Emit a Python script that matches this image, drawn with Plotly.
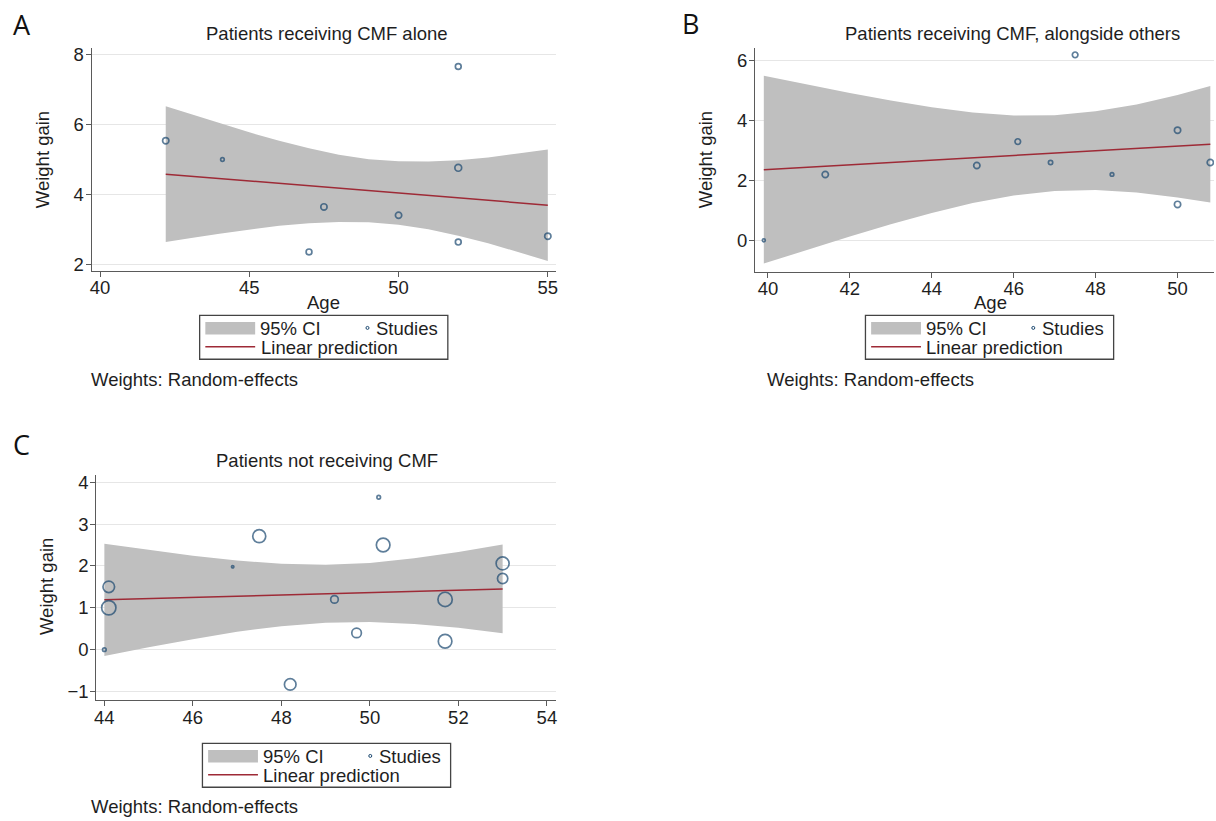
import plotly.graph_objects as go

W, H = 1216, 821

# ---------------- data ----------------
# Panel A: patients receiving CMF alone
a_age = [42.2, 44.1, 47.0, 47.5, 50.0, 52.0, 52.0, 52.0, 55.0]
a_gain = [5.54, 5.00, 2.35, 3.64, 3.40, 7.67, 4.76, 2.63, 2.80]
a_marker_d = [8.0, 5.3, 7.5, 8.0, 8.0, 7.5, 8.5, 7.5, 8.0]
a_fit_age = [42.2, 55.0]
a_fit_gain = [4.58, 3.69]
a_ci_age = [42.2, 43, 44, 45, 46, 47, 48, 49, 50, 51, 52, 53, 54, 55]
a_ci_upper = [6.53, 6.31, 6.04, 5.78, 5.54, 5.32, 5.14, 5.01, 4.95, 4.94, 4.98, 5.06, 5.17, 5.29]
a_ci_lower = [2.63, 2.74, 2.87, 2.99, 3.10, 3.17, 3.21, 3.20, 3.13, 3.00, 2.81, 2.60, 2.35, 2.09]

# Panel B: patients receiving CMF, alongside others
b_age = [39.9, 41.4, 45.1, 46.1, 46.9, 47.5, 48.4, 50.0, 50.0, 50.8]
b_gain = [0.0, 2.2, 2.5, 3.3, 2.6, 6.2, 2.2, 3.68, 1.2, 2.6]
b_marker_d = [4.7, 8.0, 8.0, 7.3, 6.0, 7.3, 5.3, 8.0, 8.0, 8.0]
b_fit_age = [39.9, 50.8]
b_fit_gain = [2.36, 3.21]
b_ci_age = [39.9, 41, 42, 43, 44, 45, 46, 47, 48, 49, 50, 50.8]
b_ci_upper = [5.50, 5.19, 4.92, 4.67, 4.45, 4.27, 4.17, 4.18, 4.31, 4.54, 4.86, 5.16]
b_ci_lower = [-0.78, -0.30, 0.13, 0.54, 0.91, 1.25, 1.50, 1.65, 1.68, 1.60, 1.43, 1.26]

# Panel C: patients not receiving CMF
c_age = [44.0, 44.1, 44.1, 46.9, 47.5, 48.2, 49.2, 49.7, 50.2, 50.3, 51.7, 51.7, 53.0, 53.0]
c_gain = [0.0, 1.5, 1.0, 1.98, 2.71, -0.83, 1.2, 0.4, 3.64, 2.5, 1.2, 0.2, 2.06, 1.7]
c_marker_d = [5.3, 13.3, 16.0, 4.0, 14.7, 13.3, 9.3, 11.3, 5.3, 15.3, 16.0, 15.3, 14.7, 12.0]
c_fit_age = [44.0, 53.0]
c_fit_gain = [1.19, 1.45]
c_ci_age = [44, 45, 46, 47, 48, 49, 50, 51, 52, 53]
c_ci_upper = [2.53, 2.38, 2.24, 2.13, 2.05, 2.03, 2.07, 2.18, 2.33, 2.51]
c_ci_lower = [-0.15, 0.06, 0.25, 0.43, 0.56, 0.64, 0.66, 0.61, 0.52, 0.39]

titles = ["Patients receiving CMF alone",
          "Patients receiving CMF, alongside others",
          "Patients not receiving CMF"]
panel_letters = ["A", "B", "C"]
legend_labels = ["95% CI", "Studies", "Linear prediction"]
note_text = "Weights: Random-effects"
x_title = "Age"
y_title = "Weight gain"

# ---------------- styling ----------------
FONT = "Liberation Sans, Arial, sans-serif"
TXT = "#1e1e1e"
FS = 18.5
BAND = "#bfbfbf"
FIT = "#9e2a36"
MARK = "#1a476f"
AXIS = "#5a5a5a"
GRID = "#e6e6e6"
MLW = 1.7


def px(x):
    return x / W


def py(y):
    return 1 - y / H


fig = go.Figure()

panels = [
    (a_age, a_gain, a_marker_d, a_fit_age, a_fit_gain, a_ci_age, a_ci_upper, a_ci_lower),
    (b_age, b_gain, b_marker_d, b_fit_age, b_fit_gain, b_ci_age, b_ci_upper, b_ci_lower),
    (c_age, c_gain, c_marker_d, c_fit_age, c_fit_gain, c_ci_age, c_ci_upper, c_ci_lower),
]

for i, (ax_, ay_, md, fx, fy, cx, cu, cl) in enumerate(panels):
    xa = "x" if i == 0 else f"x{i+1}"
    ya = "y" if i == 0 else f"y{i+1}"
    fig.add_trace(go.Scatter(x=cx + cx[::-1], y=cu + cl[::-1], fill="toself",
                             fillcolor=BAND, line=dict(width=0), mode="lines",
                             hoverinfo="skip", showlegend=False, xaxis=xa, yaxis=ya))
    fig.add_trace(go.Scatter(x=fx, y=fy, mode="lines", line=dict(color=FIT, width=1.5),
                             showlegend=False, xaxis=xa, yaxis=ya))
    fig.add_trace(go.Scatter(x=ax_, y=ay_, mode="markers",
                             marker=dict(symbol="circle-open", color=MARK,
                                         size=[d - MLW for d in md],
                                         line=dict(width=MLW, color=MARK)),
                             showlegend=False, xaxis=xa, yaxis=ya))

common_x = dict(showline=True, linecolor=AXIS, linewidth=1.3, ticks="outside", ticklen=5,
                tickwidth=1.3, tickcolor=AXIS, showgrid=False, zeroline=False,
                ticklabelstandoff=-5,
                tickfont=dict(family=FONT, size=FS, color=TXT))
common_y = dict(showline=True, linecolor=AXIS, linewidth=1.3, ticks="outside", ticklen=5,
                tickwidth=1.3, tickcolor=AXIS, showgrid=True, gridcolor=GRID, gridwidth=1,
                zeroline=False, ticklabelstandoff=-2,
                tickfont=dict(family=FONT, size=FS, color=TXT))

fig.update_layout(
    width=W, height=H, margin=dict(l=0, r=0, t=0, b=0),
    paper_bgcolor="white", plot_bgcolor="white", showlegend=False,
    xaxis=dict(domain=[px(90), px(555.7)], range=[39.72, 55.27], tick0=40, dtick=5,
               anchor="y", **common_x),
    yaxis=dict(domain=[py(270), py(45)], range=[1.81, 8.21], tick0=0, dtick=2,
               anchor="x", **common_y),
    xaxis2=dict(domain=[px(755.7), 1.0], range=[39.69, 50.89], tick0=40, dtick=2,
                anchor="y2", **common_x),
    yaxis2=dict(domain=[py(271), py(45)], range=[-1.05, 6.44], tick0=0, dtick=2,
                anchor="x2", **common_y),
    xaxis3=dict(domain=[px(94.7), px(556)], range=[43.82, 54.21], tick0=44, dtick=2,
                anchor="y3", **common_x),
    yaxis3=dict(domain=[py(703.3), py(475.7)], range=[-1.21, 4.18], tick0=0, dtick=1,
                anchor="x3", **common_y),
)

ann = []


def text(x, y, s, size=FS, xanchor="center", angle=0, family=FONT, color=TXT):
    if xanchor == "left":
        x -= 3
    ann.append(dict(x=px(x), y=py(y), xref="paper", yref="paper", text=s, showarrow=False,
                    xanchor=xanchor, yanchor="middle", textangle=angle,
                    font=dict(family=family, size=size, color=color)))


# titles
text(326.3, 31, titles[0])
text(1014.3, 31, titles[1])
text(326.5, 461, titles[2])
# panel letters
LET = "Open Sans, sans-serif"
text(20, 22, panel_letters[0], size=27, family=LET, color="#111")
text(691, 21, panel_letters[1], size=27, family=LET, color="#111")
text(20, 445, panel_letters[2], size=27, family=LET, color="#111")
# axis titles
text(40.7, 158, y_title, angle=-90)
text(705.9, 158, y_title, angle=-90)
text(45.2, 589, y_title, angle=-90)
text(322.2, 302, x_title)
text(992.2, 302, x_title)
# notes
text(90.7, 380, note_text, xanchor="left")
text(768.9, 380, note_text, xanchor="left")
text(90.7, 810, note_text, xanchor="left")

shapes = []


def legend(dx, dy):
    shapes.append(dict(type="rect", xref="paper", yref="paper",
                       x0=px(198.3 + dx), x1=px(447.3 + dx), y0=py(359.3 + dy), y1=py(315 + dy),
                       line=dict(color="#444", width=1.3), fillcolor="white"))
    shapes.append(dict(type="rect", xref="paper", yref="paper",
                       x0=px(204 + dx), x1=px(254 + dx), y0=py(334.3 + dy), y1=py(321.7 + dy),
                       line=dict(width=0), fillcolor=BAND))
    shapes.append(dict(type="line", xref="paper", yref="paper",
                       x0=px(204 + dx), x1=px(254 + dx), y0=py(346.7 + dy), y1=py(346.7 + dy),
                       line=dict(color=FIT, width=1.5)))
    shapes.append(dict(type="circle", xref="paper", yref="paper",
                       x0=px(365.2 + dx), x1=px(368.2 + dx), y0=py(329.2 + dy), y1=py(326.2 + dy),
                       line=dict(color=MARK, width=1)))
    text(260 + dx, 328 + dy, legend_labels[0], xanchor="left")
    text(376.7 + dx, 328 + dy, legend_labels[1], xanchor="left")
    text(260.5 + dx, 347.5 + dy, legend_labels[2], xanchor="left")


legend(0, 0)
legend(668, 0)
legend(2.8, 431.7)

fig.update_layout(annotations=ann, shapes=shapes)

fig.write_html("out.html", config={"displayModeBar": False},
               post_script="document.body.style.margin='0';")
